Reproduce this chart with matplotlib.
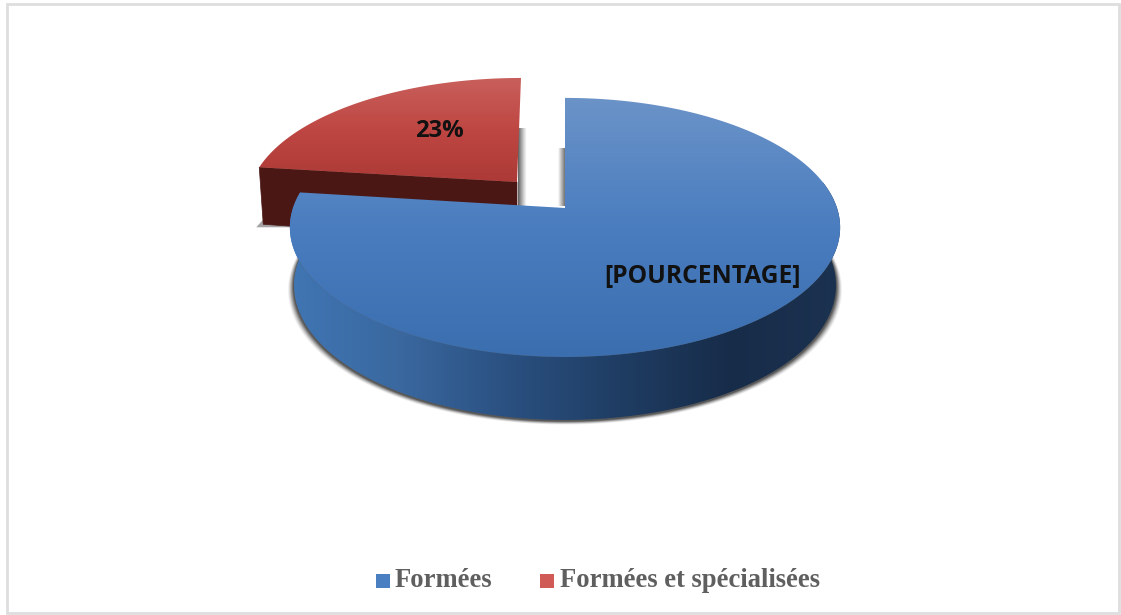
import numpy as np
import matplotlib
matplotlib.use("Agg")
import matplotlib.pyplot as plt
from matplotlib.colors import LinearSegmentedColormap as LSC
from matplotlib.patches import Polygon, Rectangle

categories = ["Formées", "Formées et spécialisées"]
shares = [77, 23]
slice_labels = ["[POURCENTAGE]", "23%"]

W, H = 1121, 615
fig = plt.figure(figsize=(W / 100, H / 100), dpi=100, facecolor="white")
ax = fig.add_axes([0, 0, 1, 1])
ax.set_axis_off()

# projection of the pie disc (perspective view)
R, A, K = 272.0, 126.6, 0.15
CX, CY = 565.0, 208.0


def project(theta, scale=1.0, dx=0.0, dy=0.0, shrink=1.0):
    u, v = np.sin(theta), -np.cos(theta)
    d = 1 - K * v
    return CX + dx + scale * shrink * R * u / d, CY + dy + scale * A * v / d


def fill(poly_xy, colors, extent, vertical, z):
    n = 256
    g = np.linspace(0, 1, n)
    g = g[:, None] if vertical else g[None, :]
    cmap = LSC.from_list("g", colors)
    im = ax.imshow(g, cmap=cmap, extent=extent, aspect="auto", origin="upper",
                   interpolation="bilinear", zorder=z, vmin=0, vmax=1)
    patch = Polygon(poly_xy, closed=True, transform=ax.transData, fc="none", ec="none")
    ax.add_patch(patch)
    im.set_clip_path(patch)


def soft_strip(x0, x1, y0, y1, color, peak, z):
    """Horizontal shadow strip fading from x0 to x1."""
    rgba = np.zeros((1, 32, 4))
    rgba[..., :3] = matplotlib.colors.to_rgb(color)
    rgba[..., 3] = peak * np.linspace(1, 0, 32) ** 1.2
    ax.imshow(rgba, extent=(x0, x1, y1, y0), aspect="auto", origin="upper",
              interpolation="bilinear", zorder=z)


angles = 2 * np.pi * np.cumsum([0] + shares) / sum(shares)

# --- red slice (exploded), behind the blue one
th = np.linspace(angles[1], angles[2], 200)
rs, rshrink, rdx, rdy = 0.945, 1.032, -48.0, -26.0
rx, ry = project(th, rs, rdx, rdy, rshrink)
apex_r = (CX + rdx, CY + rdy)
rx = rx + 4 * (apex_r[1] - ry) / 104
red_top = np.vstack([np.c_[rx, ry], apex_r])
# shadow at the right side of the red slice
soft_strip(apex_r[0] + 1, apex_r[0] + 10, 128, 208, "#404040", .85, 1)
wx0, wy0 = rx[0], ry[0]
red_wall = [(wx0, wy0), apex_r, (apex_r[0], apex_r[1] + 60), (wx0 + 4, wy0 + 57)]
ax.add_patch(Polygon([(wx0 - 3, wy0 + 60), (wx0 + 6, wy0 + 50), (wx0 + 35, wy0 + 60)],
                     fc="#666666", ec="none", alpha=.6, zorder=1.5))
ax.add_patch(Polygon(red_wall, closed=True, fc="#4a1715", ec="#4a1715", lw=.5, zorder=2))
fill(red_top, ["#c9605c", "#be4642", "#ab3935"], (255, 525, 186, 76), True, 3)

# --- blue slice
th_b = np.linspace(angles[0], angles[1], 500)
bx, by = project(th_b)
blue_top = np.vstack([np.c_[bx, by], (CX, CY)])

# rim of the blue slice
th_w = np.radians(np.linspace(78, 277.2, 300))
tx, ty = project(th_w)
v_w = -np.cos(th_w)
depth = 57 + 6 * np.clip(v_w, 0, 1)
lx, ly = project(th_w, 1.0, 0, 0, 0.985)
ly = ly + depth
wall = np.vstack([np.c_[tx, ty], np.c_[lx, ly][::-1]])

# soft shadow along the outer rim
for grow, al in [(6, .08), (5, .12), (4, .18), (3, .26), (2, .36), (1, .5)]:
    sx = CX + (lx - CX) * (1 + grow / 275)
    sy = ly + grow * 0.6 + 1
    ax.add_patch(Polygon(np.c_[sx, sy], closed=True, fc="#3a3a3a", ec="none", alpha=al, zorder=3.5))

# shadow next to the left cut of the blue slice
rgba = np.zeros((1, 32, 4))
rgba[..., :3] = matplotlib.colors.to_rgb("#505050")
rgba[..., 3] = 0.8 * np.linspace(0, 1, 32)
ax.imshow(rgba, extent=(CX - 7, CX, 206, 148), aspect="auto", origin="upper",
          interpolation="bilinear", zorder=3.5)

fill(wall, ["#4076b4", "#3a689f", "#2a5080", "#1f3d63", "#172c49", "#1b3250"],
     (288, 842, 425, 180), False, 4)
fill(blue_top, ["#6b93c8", "#4a7dbf", "#3b6eaf"], (285, 845, 358, 97), True, 5)

# --- data labels
ax.text(702.5, 276, slice_labels[0], ha="center", va="center", family="Open Sans",
        weight="bold", fontsize=17.7, color="#111111", zorder=6)
ax.text(439, 131, slice_labels[1], ha="center", va="center", family="Open Sans",
        weight="bold", fontsize=17.2, color="#111111", zorder=6)

# --- legend
legend_cols = [("#4a7fc1", "#3f72b4"), ("#cf5a56", "#c0403c")]
for (x0, tx0), name, cols in zip([(376, 395), (540, 560)], categories, legend_cols):
    ax.add_patch(Rectangle((x0, 574), 14, 14, fc=cols[0], ec="none", zorder=6))
    ax.text(tx0, 580.5, name, ha="left", va="center", family="Liberation Serif",
            weight="bold", fontsize=19.2, color="#5f5f5f", zorder=6)

# --- frame
ax.add_patch(Rectangle((7, 4), 1112, 609, fc="none", ec="#dedede", lw=2, zorder=7))

ax.set_xlim(0, W)
ax.set_ylim(H, 0)
fig.savefig("out.png", dpi=100, facecolor="white")
